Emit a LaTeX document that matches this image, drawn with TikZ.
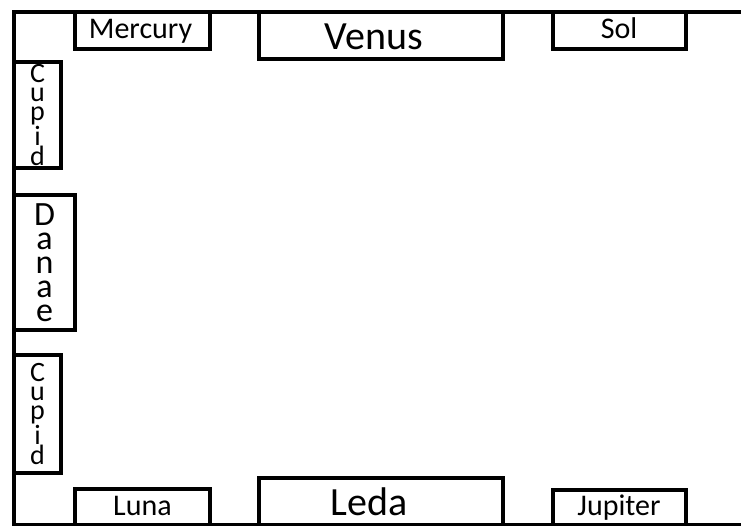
\documentclass[tikz,border=0pt]{standalone}
\usepackage{fontspec}
\setmainfont{Carlito}
\usepackage{tikz}
\usetikzlibrary{positioning}

\begin{document}
\begin{tikzpicture}[x=1pt, y=-1pt,
  box/.style={draw, line width=4pt, inner sep=0pt, text height=20pt, text depth=4pt, font=\fontsize{30}{32}\selectfont},
  bigbox/.style={box, text height=30pt, text depth=2pt, font=\fontsize{40}{42}\selectfont},
  tallbox/.style={draw, line width=4pt, inner sep=0pt, align=center, font=\fontsize{28}{19}\selectfont},
  wall/.style={line width=4pt}]
  \useasboundingbox (0,0) rectangle (741,525);
  % room outline, open on the right
  \coordinate (tr) at (745,11.5);
  \coordinate (tl) at (14,11.5);
  \coordinate (bl) at (14,525);
  \coordinate (br) at (745,525);
  \draw[wall] (tr) -- (tl) -- (bl) -- (br);
  % top wall
  \node[box, minimum width=135pt, minimum height=37pt] (mercury) at (142.5,30) {\hspace*{-4pt}Mercury};
  \node[bigbox, minimum width=244pt, minimum height=47pt] (venus) at (381,35) {\hspace*{-14pt}Venus};
  \node[box, minimum width=133pt, minimum height=37pt] (sol) at (619,30) {Sol};
  % left wall
  \node[tallbox, minimum width=47pt, minimum height=106pt] (cupidtop) at (37.5,115) {C\\u\\p\\i\\d};
  \node[tallbox, minimum width=61pt, minimum height=135pt, font=\fontsize{34}{24}\selectfont] (danae) at (44.5,262.5) {D\\a\\n\\a\\e};
  \node[tallbox, minimum width=47pt, minimum height=118pt] (cupidbot) at (37.5,414) {C\\u\\p\\i\\d};
  % bottom wall
  \node[box, minimum width=135pt, minimum height=36pt] (luna) at (142.5,507) {Luna};
  \node[bigbox, minimum width=244pt, minimum height=47pt] (leda) at (381,501.5) {\hspace*{-24pt}Leda};
  \node[box, minimum width=133pt, minimum height=35pt] (jupiter) at (619,507.5) {Jupiter};
\end{tikzpicture}
\end{document}
